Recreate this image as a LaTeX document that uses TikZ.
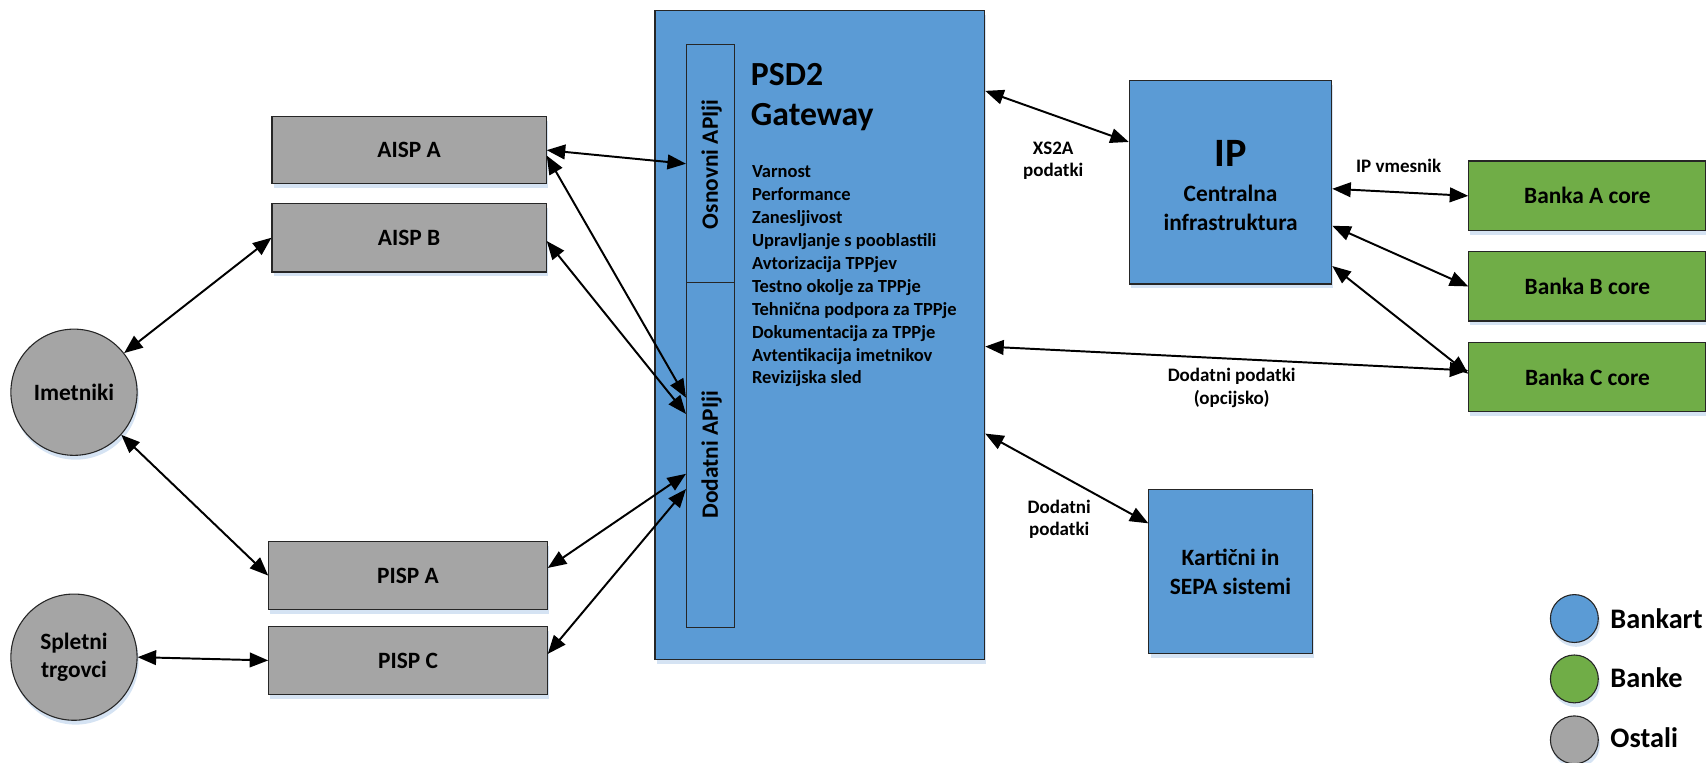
\documentclass[tikz,border=0pt]{standalone}
\usepackage{fontspec}
\setmainfont{Carlito}
\usetikzlibrary{arrows.meta,calc,shadows}
\definecolor{bkblue}{HTML}{5B9BD5}
\definecolor{bkgreen}{HTML}{70AD47}
\definecolor{bkgray}{HTML}{A5A5A5}
\definecolor{shade}{HTML}{D5E3F3}
\definecolor{edge}{HTML}{262626}
\newcommand\fsz[2]{\fontsize{#1bp}{#2bp}\selectfont}
\begin{document}
\begin{tikzpicture}[x=1bp,y=-1bp,
  box/.style={draw=edge,line width=1bp,inner sep=0pt,align=center,font=\fsz{21.5}{26}\bfseries,
    general shadow={fill=shade,shadow xshift=1.5bp,shadow yshift=-4bp}},
  plain/.style={draw=edge,line width=1bp,inner sep=0pt},
  conn/.style={line width=1.8bp,{Triangle[length=17bp,width=13.5bp]}-{Triangle[length=17bp,width=13.5bp]}},
  lbl/.style={font=\fsz{17.5}{21}\bfseries,inner sep=0pt,anchor=base},
  item/.style={font=\fsz{17}{21}\bfseries,inner sep=0pt,anchor=base west},
  leg/.style={font=\fsz{26}{30}\bfseries,inner sep=0pt,anchor=base west},
  dot/.style={circle,draw=edge,line width=1bp,minimum size=44bp,inner sep=0pt,
    general shadow={fill=shade,shadow xshift=1.5bp,shadow yshift=-4bp}}
]
\useasboundingbox (0,0) rectangle (1568,701);

% PSD2 gateway
\node[box,fill=bkblue,minimum width=303bp,minimum height=596bp] (psd) at (753.5,308) {};
\node[plain,fill=bkblue,minimum width=44bp,minimum height=219bp] (osn) at (653,150.5) {};
\node[plain,fill=bkblue,minimum width=44bp,minimum height=317bp] (dod) at (653,418.5) {};
\node[rotate=90,inner sep=0pt,font=\fsz{21.5}{26}\bfseries] (osnt) at (654,151) {Osnovni APIji};
\node[rotate=90,inner sep=0pt,font=\fsz{21.5}{26}\bfseries] (dodt) at (654,418) {Dodatni APIji};
\node[inner sep=0pt,anchor=base west,font=\fsz{31}{36}\bfseries] (t1) at (690,79) {PSD2};
\node[inner sep=0pt,anchor=base west,font=\fsz{31}{36}\bfseries] (t2) at (690,115) {Gateway};
\foreach \txt [count=\i from 0] in {Varnost,Performance,Zanesljivost,Upravljanje s pooblastili,Avtorizacija TPPjev,Testno okolje za TPPje,Tehnična podpora za TPPje,Dokumentacija za TPPje,Avtentikacija imetnikov,Revizijska sled}
  \node[item] (it\i) at (691,163+21.1*\i) {\txt};

% left side
\node[box,fill=bkgray,minimum width=252bp,minimum height=62bp] (aispA) at (376,138) {AISP A};
\node[box,fill=bkgray,minimum width=252bp,minimum height=63bp] (aispB) at (376,218.5) {AISP B};
\node[box,fill=bkgray,minimum width=256bp,minimum height=62bp] (pispA) at (375,529) {PISP A};
\node[box,fill=bkgray,minimum width=256bp,minimum height=62bp] (pispC) at (375,607) {PISP C};
\node[box,circle,fill=bkgray,minimum size=116bp] (imet) at (68,360.5) {Imetniki};
\node[box,circle,fill=bkgray,minimum size=116bp] (splet) at (68,604) {Spletni\\trgovci};

% right side
\node[box,fill=bkblue,minimum width=186bp,minimum height=187bp] (ip) at (1131,167.5) {};
\node[inner sep=0pt,anchor=base,font=\fsz{37}{40}\bfseries] (ipt) at (1131,153) {IP};
\node[inner sep=0pt,anchor=base,font=\fsz{21.5}{26}\bfseries] (ipt2) at (1131,185.4) {Centralna};
\node[inner sep=0pt,anchor=base,font=\fsz{21.5}{26}\bfseries] (ipt3) at (1131,211.4) {infrastruktura};
\node[box,fill=bkgreen,minimum width=218bp,minimum height=64bp] (bA) at (1459,180) {Banka A core};
\node[box,fill=bkgreen,minimum width=218bp,minimum height=63.5bp] (bB) at (1459,263.25) {Banka B core};
\node[box,fill=bkgreen,minimum width=218bp,minimum height=63bp] (bC) at (1459,346.5) {Banka C core};
\node[box,fill=bkblue,minimum width=150bp,minimum height=151bp] (kart) at (1131,525.5) {};
\node[inner sep=0pt,anchor=base,font=\fsz{21.5}{26}\bfseries] (kt1) at (1131,520) {Kartični in};
\node[inner sep=0pt,anchor=base,font=\fsz{21.5}{26}\bfseries] (kt2) at (1131,546) {SEPA sistemi};

% connectors
\draw[conn] (aispA.east) -- (osn.west);
\draw[conn] ($(aispA.east)+(0,5)$) -- ($(dod.north west)+(0,106)$);
\draw[conn] ($(aispB.east)+(0,3)$) -- ($(dod.north west)+(0,121)$);
\draw[conn] ($(pispA.east)+(0,-7)$) -- ($(dod.north west)+(0,176)$);
\draw[conn] ($(pispC.east)+(0,-6)$) -- ($(dod.north west)+(0,190)$);
\draw[conn] (imet.38.8) -- (aispB.west);
\draw[conn] (imet.-42.3) -- (pispA.west);
\draw[conn] (splet.east) -- (pispC.west);
\draw[conn] ($(psd.north east)+(0,74)$) -- ($(ip.north west)+(0,57)$);
\draw[conn] ($(ip.north east)+(0,100)$) -- (bA.west);
\draw[conn] ($(ip.north east)+(0,134)$) -- (bB.west);
\draw[conn] ($(ip.north east)+(0,171)$) -- ($(bC.west)+(0,-3)$);
\draw[conn] ($(psd.north east)+(0,309)$) -- ($(bC.west)+(0,-6)$);
\draw[conn] ($(psd.north east)+(0,389)$) -- ($(kart.north west)+(0,31.5)$);

% connector labels
\node[lbl] (l1) at (968,142) {XS2A};
\node[lbl] (l2) at (968,162.4) {podatki};
\node[lbl] (l3) at (1285.5,158.4) {IP vmesnik};
\node[lbl] (l4) at (1132,351) {Dodatni podatki};
\node[lbl] (l5) at (1132,372) {(opcijsko)};
\node[lbl] (l6) at (973.5,472) {Dodatni};
\node[lbl] (l7) at (973.5,492) {podatki};

% legend
\node[dot,fill=bkblue] (g1) at (1447,568.5) {};
\node[dot,fill=bkgreen] (g2) at (1447,624) {};
\node[dot,fill=bkgray] (g3) at (1447,680) {};
\node[leg] (gt1) at (1480,577.5) {Bankart};
\node[leg] (gt2) at (1480,631.7) {Banke};
\node[leg] (gt3) at (1480,687) {Ostali};
\end{tikzpicture}
\end{document}
